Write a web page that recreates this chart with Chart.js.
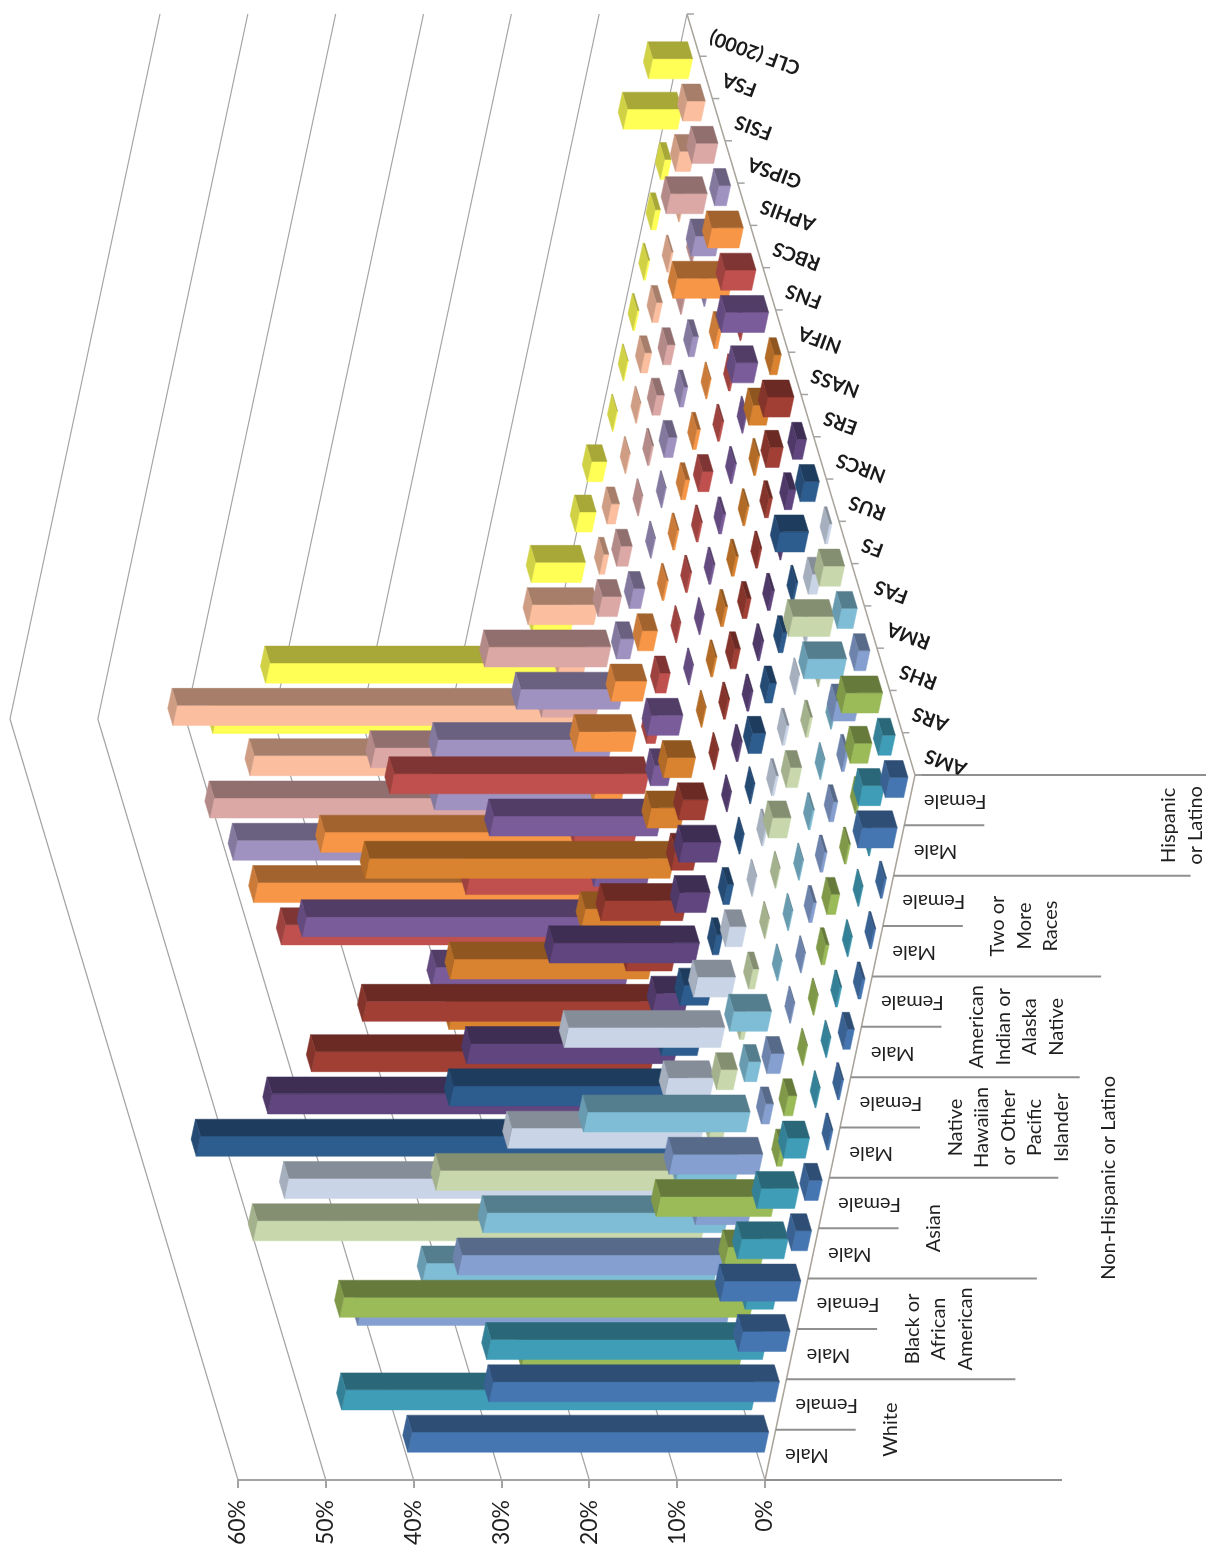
<!DOCTYPE html>
<html lang="en">
<head>
    <meta charset="UTF-8" />
    <title>Workforce by Agency</title>
    <style>
        html, body { margin: 0; padding: 0; background: #fff; }
        canvas { display: block; }
    </style>
</head>
<body>
    <canvas id="agencyChart" width="1206" height="1552"></canvas>

    <script src="https://cdn.jsdelivr.net/npm/chart.js"></script>
    <script>
        const categories = ['Male', 'Female', 'Male', 'Female', 'Male', 'Female', 'Male', 'Female',
            'Male', 'Female', 'Male', 'Female', 'Male', 'Female'];
        const raceGroups = [
            ['White'],
            ['Black or', 'African', 'American'],
            ['Asian'],
            ['Native', 'Hawaiian', 'or Other', 'Pacific', 'Islander'],
            ['American', 'Indian or', 'Alaska', 'Native'],
            ['Two or', 'More', 'Races'],
            ['Hispanic', 'or Latino']
        ];
        const outerGroup = 'Non-Hispanic or Latino';
        const agencies = ['AMS', 'ARS', 'RHS', 'RMA', 'FAS', 'FS', 'RUS', 'NRCS', 'ERS', 'NASS',
            'NIFA', 'FNS', 'RBCS', 'APHIS', 'GIPSA', 'FSIS', 'FSA', 'CLF (2000)'];
        const valueTicks = [0, 10, 20, 30, 40, 50, 60];

        // percent of each agency's workforce, same order as categories
        const ams = [40.6, 32.6, 5.4, 8.7, 1.8, 1.5, 0.2, 0.2, 0.8, 0.3, 0.2, 0.2, 4.0, 2.1];
        const ars = [46.7, 31.4, 3.2, 5.3, 4.3, 2.5, 0.1, 0.1, 0.2, 0.1, 0.1, 0.1, 2.5, 1.45];
        const rhs = [24.8, 46.7, 4.2, 13.1, 0.6, 1.0, 0.1, 0.1, 0.4, 1.0, 0.2, 0.2, 2.0, 4.2];
        const rma = [42.0, 31.8, 6.0, 10.2, 0.9, 1.5, 0.1, 0.1, 0.35, 0.3, 0.5, 0.3, 2.6, 1.3];
        const fas = [33.2, 27.5, 6.8, 18.5, 1.4, 4.3, 0.1, 0.1, 0.1, 0.2, 0.1, 0.1, 4.4, 1.8];
        const fs = [51.0, 31.4, 1.6, 1.9, 0.5, 0.7, 0.1, 0.1, 2.1, 1.3, 0.3, 0.1, 4.7, 2.4];
        const rus = [46.0, 21.8, 5.2, 17.8, 4.3, 1.9, 0.1, 0.2, 0.3, 0.3, 0.1, 0.1, 1.0, 0.3];
        const nrcs = [54.6, 27.0, 4.1, 3.2, 0.7, 0.7, 0.1, 0.1, 1.5, 0.8, 0.5, 0.2, 3.3, 1.7];
        const ers = [45.0, 23.6, 3.7, 16.6, 3.5, 4.3, 0.1, 0.2, 0.2, 0.2, 0.3, 0.1, 0.8, 1.1];
        const nass = [38.6, 34.0, 5.2, 9.3, 2.5, 2.9, 0.1, 0.2, 0.65, 0.5, 0.2, 0.4, 1.5, 3.0];
        const nifa = [21.5, 22.6, 8.9, 34.7, 3.85, 3.2, 0.1, 0.2, 0.3, 0.3, 0.2, 0.2, 2.0, 0.8];
        const fns = [22.0, 38.0, 6.0, 19.1, 2.0, 3.6, 0.1, 0.1, 0.2, 0.3, 0.2, 0.1, 2.5, 4.9];
        const rbcs = [37.7, 17.9, 6.9, 29.0, 1.0, 1.2, 0.1, 0.2, 0.2, 1.2, 0.2, 0.2, 0.1, 3.5];
        const aphis = [39.4, 33.0, 3.2, 6.5, 3.6, 1.75, 0.2, 0.2, 0.5, 0.4, 0.1, 0.4, 6.3, 3.6];
        const gipsa = [40.3, 18.6, 19.9, 11.7, 1.55, 1.3, 0.1, 0.1, 1.0, 0.45, 0.65, 0.1, 2.8, 1.35];
        const fsis = [41.5, 24.4, 6.2, 13.9, 2.2, 1.3, 0.1, 0.2, 0.9, 0.9, 0.1, 0.1, 4.2, 2.5];
        const fsa = [35.5, 45.5, 2.9, 7.5, 0.6, 0.95, 0.1, 0.1, 0.8, 0.7, 0.2, 0.1, 1.7, 2.1];
        const clf = [38.3, 33.5, 4.4, 5.7, 1.9, 1.75, 0.1, 0.1, 0.2, 0.2, 0.6, 0.75, 6.2, 4.55];

        const agencyValues = [ams, ars, rhs, rma, fas, fs, rus, nrcs, ers, nass, nifa, fns, rbcs,
            aphis, gipsa, fsis, fsa, clf];
        const agencyColors = ['#4676b2', '#3f9db8', '#9bbb59', '#85a0d0', '#7fbdd6', '#c8d8ac',
            '#c9d5e6', '#2d5c8f', '#60457f', '#a23f35', '#d9822f', '#7a5c9b', '#c0504d',
            '#f79646', '#a092c0', '#dba8a6', '#fbbfa0', '#ffff55'];

        // oblique floor: how far a step along each floor axis runs on the page
        const CAT_SQUASH = 705 / 761;
        const CAT_SLANT = 150 / 705;
        const ROW_SLANT = 228 / 761;
        const BAR_SIZE = 0.4;
        const LABEL_FONT = 'Lato, sans-serif';

        function project(chart, value, cat, row) {
            const { x, y, row: rowScale } = chart.scales;
            const bottom = chart.chartArea.bottom;
            const catRise = (y.getPixelForValue(cat) - bottom) * CAT_SQUASH;
            const rowRise = rowScale.getPixelForValue(row) - bottom;
            return {
                x: x.getPixelForValue(value) - catRise * CAT_SLANT + rowRise * ROW_SLANT,
                y: bottom + catRise + rowRise
            };
        }

        function shade(hex, k) {
            const n = parseInt(hex.slice(1), 16);
            const c = [n >> 16, (n >> 8) & 255, n & 255].map(v => Math.round(v * k));
            return `rgb(${c[0]}, ${c[1]}, ${c[2]})`;
        }

        function fillFace(ctx, points, color) {
            ctx.beginPath();
            points.forEach((p, i) => i ? ctx.lineTo(p.x, p.y) : ctx.moveTo(p.x, p.y));
            ctx.closePath();
            ctx.fillStyle = color;
            ctx.strokeStyle = color;
            ctx.lineWidth = 0.5;
            ctx.fill();
            ctx.stroke();
        }

        // Bars as extruded boxes standing on the slanted floor
        class Box3dController extends Chart.BarController {
            draw() {
                const chart = this.chart;
                const ctx = chart.ctx;
                const dataset = this.getDataset();
                const row = this.index;
                const half = BAR_SIZE / 2;
                ctx.save();
                dataset.data.forEach((value, cat) => {
                    const base = (c, r) => project(chart, 0, cat + c, row + r);
                    const tip = (c, r) => project(chart, value, cat + c, row + r);
                    const color = dataset.backgroundColor;
                    fillFace(ctx, [tip(-half, -half), tip(half, -half), base(half, -half), base(-half, -half)], color);
                    fillFace(ctx, [tip(half, -half), tip(half, half), base(half, half), base(half, -half)], shade(color, 0.66));
                    fillFace(ctx, [tip(-half, -half), tip(half, -half), tip(half, half), tip(-half, half)], shade(color, 0.82));
                });
                ctx.restore();
            }
        }
        Box3dController.id = 'box3d';
        Box3dController.defaults = Chart.BarController.defaults;
        Box3dController.overrides = Chart.BarController.overrides;
        Chart.register(Box3dController);

        function strokeLine(ctx, a, b, color, width) {
            ctx.beginPath();
            ctx.moveTo(a.x, a.y);
            ctx.lineTo(b.x, b.y);
            ctx.strokeStyle = color;
            ctx.lineWidth = width;
            ctx.stroke();
        }

        function rotatedText(ctx, text, x, y, angle, align) {
            ctx.save();
            ctx.translate(x, y);
            ctx.rotate(angle * Math.PI / 180);
            ctx.textAlign = align;
            ctx.textBaseline = 'middle';
            ctx.fillText(text, 0, 0);
            ctx.restore();
        }

        // Back walls, floor axes and the multi-level category labels
        const wallsAndLabels = {
            id: 'wallsAndLabels',
            beforeDatasetsDraw(chart) {
                const ctx = chart.ctx;
                const lastCat = categories.length - 0.5;
                const lastRow = agencies.length - 0.5;
                ctx.save();

                valueTicks.forEach(v => {
                    const corner = project(chart, v, -0.5, lastRow);
                    strokeLine(ctx, project(chart, v, -0.5, -0.5), corner, '#a3a3a3', 1.2);
                    strokeLine(ctx, corner, project(chart, v, lastCat, lastRow), '#a3a3a3', 1.2);
                });

                strokeLine(ctx, project(chart, 0, -0.5, -0.5), project(chart, 0, lastCat, -0.5), '#a8a49a', 1.5);
                strokeLine(ctx, project(chart, 0, lastCat, -0.5), project(chart, 0, lastCat, lastRow), '#a8a49a', 1.5);

                // category boundaries: short between sexes, long between race groups
                categories.concat('').forEach((_, i) => {
                    const from = project(chart, 0, i - 0.5, -0.5);
                    let length = 80;
                    if (i % 2 === 0) length = (i === 0 || i >= categories.length - 2) ? 297 : 229;
                    strokeLine(ctx, from, { x: from.x + length, y: from.y }, '#8f8f8f', 2);
                });

                ctx.fillStyle = '#1f1f1f';
                ctx.font = `20px ${LABEL_FONT}`;
                categories.forEach((label, i) => {
                    const edge = project(chart, 0, i - 0.5, -0.5);
                    const mid = project(chart, 0, i, -0.5);
                    rotatedText(ctx, label, edge.x + (i % 2 ? 51 : 42), mid.y + 1, 180, 'center');
                });

                raceGroups.forEach((lines, g) => {
                    const mid = project(chart, 0, 2 * g + 0.5, -0.5);
                    const isOuter = g === raceGroups.length - 1;
                    const center = mid.x + (isOuter ? 278 : 101 + lines.length * 13.5);
                    lines.forEach((line, k) => {
                        const x = center + (k - (lines.length - 1) / 2) * 26.5;
                        rotatedText(ctx, line, x, mid.y, -90, 'center');
                    });
                });
                const outerMid = project(chart, 0, 5.5, -0.5);
                rotatedText(ctx, outerGroup, outerMid.x + 279, outerMid.y, -90, 'center');

                // agency ticks and labels along the right-hand floor edge
                agencies.concat('').forEach((_, r) => {
                    const from = project(chart, 0, lastCat, r - 0.5);
                    strokeLine(ctx, from, { x: from.x + 7, y: from.y }, '#a3a3a3', 1.5);
                });
                ctx.font = `bold 19.5px ${LABEL_FONT}`;
                ctx.fillStyle = '#1a1a1a';
                agencies.forEach((label, r) => {
                    const at = project(chart, 0, lastCat, r);
                    rotatedText(ctx, label, at.x + 17, at.y + 1, 200, 'right');
                });
                ctx.restore();
            }
        };

        new Chart(document.getElementById('agencyChart').getContext('2d'), {
            type: 'box3d',
            plugins: [wallsAndLabels],
            data: {
                labels: categories,
                datasets: agencies.map((label, i) => ({
                    label: label,
                    data: agencyValues[i],
                    backgroundColor: agencyColors[i],
                    clip: false
                }))
            },
            options: {
                indexAxis: 'y',
                responsive: false,
                animation: false,
                layout: { padding: { left: 238, right: 441, top: 719, bottom: 0 } },
                plugins: { legend: { display: false }, tooltip: { enabled: false } },
                scales: {
                    x: {
                        type: 'linear',
                        reverse: true,
                        min: 0,
                        max: 60,
                        afterFit(scale) { scale.height = 72; },
                        afterBuildTicks(scale) { scale.ticks = valueTicks.map(v => ({ value: v })); },
                        border: { color: '#a3a3a3', width: 2 },
                        grid: { drawOnChartArea: false, color: '#a3a3a3', tickLength: 8, lineWidth: 2 },
                        ticks: {
                            minRotation: 90,
                            maxRotation: 90,
                            padding: 12,
                            color: '#1f1f1f',
                            font: { family: 'Lato', size: 23 },
                            callback: v => v + '%'
                        }
                    },
                    y: { type: 'category', reverse: true, display: false },
                    row: { type: 'category', axis: 'y', labels: agencies, reverse: true, offset: true, display: false }
                }
            }
        });
    </script>
</body>
</html>
